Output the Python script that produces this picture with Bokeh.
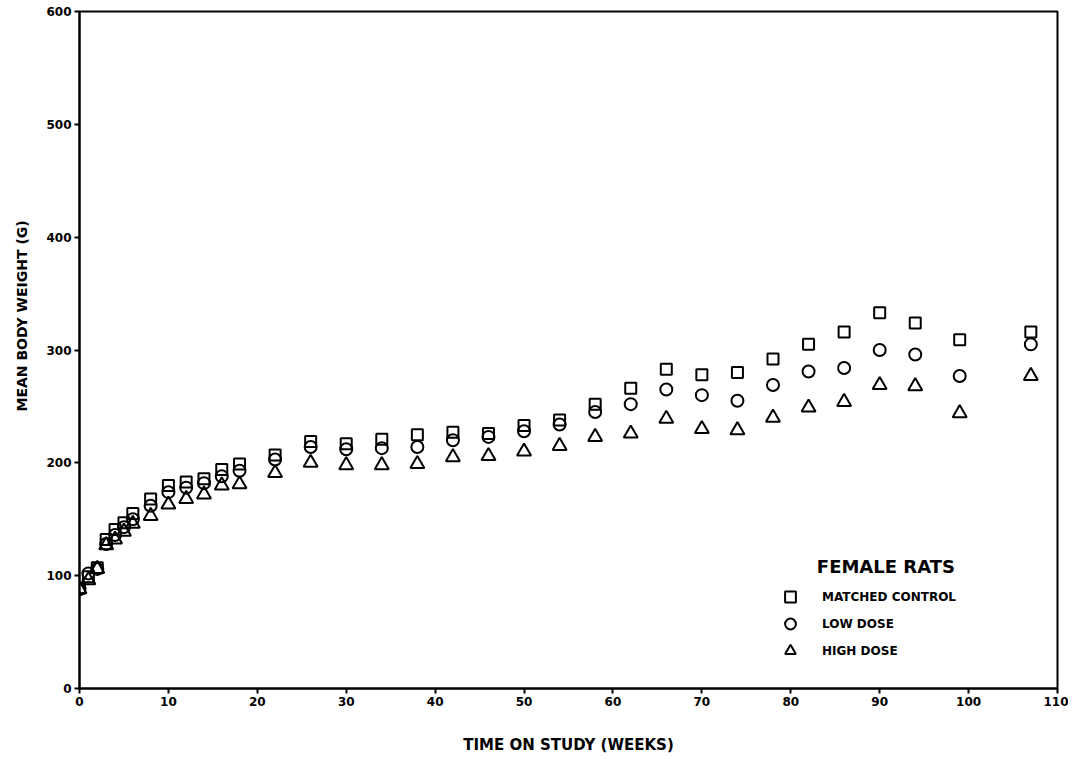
from bokeh.plotting import figure
from bokeh.models import Legend, LegendItem, Label, FixedTicker, Title
from bokeh.embed import file_html
from bokeh.resources import INLINE

weeks = [0, 1, 2, 3, 4, 5, 6, 8, 10, 12, 14, 16, 18, 22, 26, 30, 34, 38, 42, 46,
         50, 54, 58, 62, 66, 70, 74, 78, 82, 86, 90, 94, 99, 107]
matched_control = [89, 99, 107, 132, 141, 147, 155, 168, 180, 183, 186, 194, 199,
                   207, 219, 217, 221, 225, 227, 226, 233, 238, 252, 266, 283, 278,
                   280, 292, 305, 316, 333, 324, 309, 316]
low_dose = [88, 102, 106, 128, 136, 143, 150, 162, 174, 178, 182, 188, 193,
            203, 214, 212, 213, 214, 220, 223, 228, 234, 245, 252, 265, 260,
            255, 269, 281, 284, 300, 296, 277, 305]
high_dose = [88, 96, 106, 127, 132, 139, 146, 153, 163, 168, 172, 180, 181,
             191, 200, 198, 198, 199, 205, 206, 210, 215, 223, 226, 239, 230,
             229, 240, 249, 254, 269, 268, 244, 277]

x_ticks = [0, 10, 20, 30, 40, 50, 60, 70, 80, 90, 100, 110]
y_ticks = [0, 100, 200, 300, 400, 500, 600]

FONT = "DejaVu Sans"

p = figure(width=1068, height=759, x_range=(0, 110), y_range=(0, 600),
           output_backend="svg", toolbar_location=None,
           min_border_left=79, min_border_right=11, min_border_top=11,
           min_border_bottom=71)
p.grid.visible = False
p.outline_line_color = "black"
p.outline_line_width = 2
p.background_fill_color = "white"

for ax in (p.xaxis[0], p.yaxis[0]):
    ax.axis_line_width = 2
    ax.axis_line_color = "black"
    ax.major_tick_line_width = 2
    ax.major_tick_in = 0
    ax.major_tick_out = 5
    ax.minor_tick_line_color = None
    ax.major_label_text_font = FONT
    ax.major_label_text_font_style = "bold"
    ax.major_label_text_font_size = "12px"
    ax.major_label_text_color = "black"

p.xaxis.ticker = FixedTicker(ticks=x_ticks)
p.yaxis.ticker = FixedTicker(ticks=y_ticks)
p.xaxis.major_label_standoff = 3
p.yaxis.major_label_standoff = 3
p.xaxis.axis_label = "TIME ON STUDY (WEEKS)"
p.xaxis.axis_label_text_font = FONT
p.xaxis.axis_label_text_font_style = "bold"
p.xaxis.axis_label_text_font_size = "15px"
p.xaxis.axis_label_text_color = "black"
p.xaxis.axis_label_standoff = 27

ytitle = Title(text="MEAN BODY WEIGHT (G)", align="left", offset=277,
               vertical_align="top", standoff=24,
               text_font=FONT, text_font_style="bold", text_font_size="14px",
               text_color="black")
p.add_layout(ytitle, "left")

r_sq = p.scatter(weeks, matched_control, marker="square", size=11,
                 line_color="black", line_width=2, fill_alpha=0)
r_ci = p.scatter(weeks, low_dose, marker="circle", size=12,
                 line_color="black", line_width=2, fill_alpha=0)
r_tr = p.scatter(weeks, high_dose, marker="triangle", size=14,
                 line_color="black", line_width=2, fill_alpha=0)

legend = Legend(items=[LegendItem(label="MATCHED CONTROL", renderers=[r_sq]),
                       LegendItem(label="LOW DOSE", renderers=[r_ci]),
                       LegendItem(label="HIGH DOSE", renderers=[r_tr])],
                location=(696, 24), padding=0, margin=0, spacing=0,
                border_line_color=None, background_fill_alpha=0,
                label_text_font=FONT, label_text_font_style="bold",
                label_text_font_size="12px", label_text_color="black",
                glyph_width=30, glyph_height=27, label_height=20,
                label_standoff=17)
p.add_layout(legend)

title = Label(x=90.7, y=108.5, text="FEMALE RATS", text_align="center",
              text_baseline="middle", text_font=FONT, text_font_style="bold",
              text_font_size="18px", text_color="black")
p.add_layout(title)

open("out.html", "w").write(file_html(p, INLINE))
